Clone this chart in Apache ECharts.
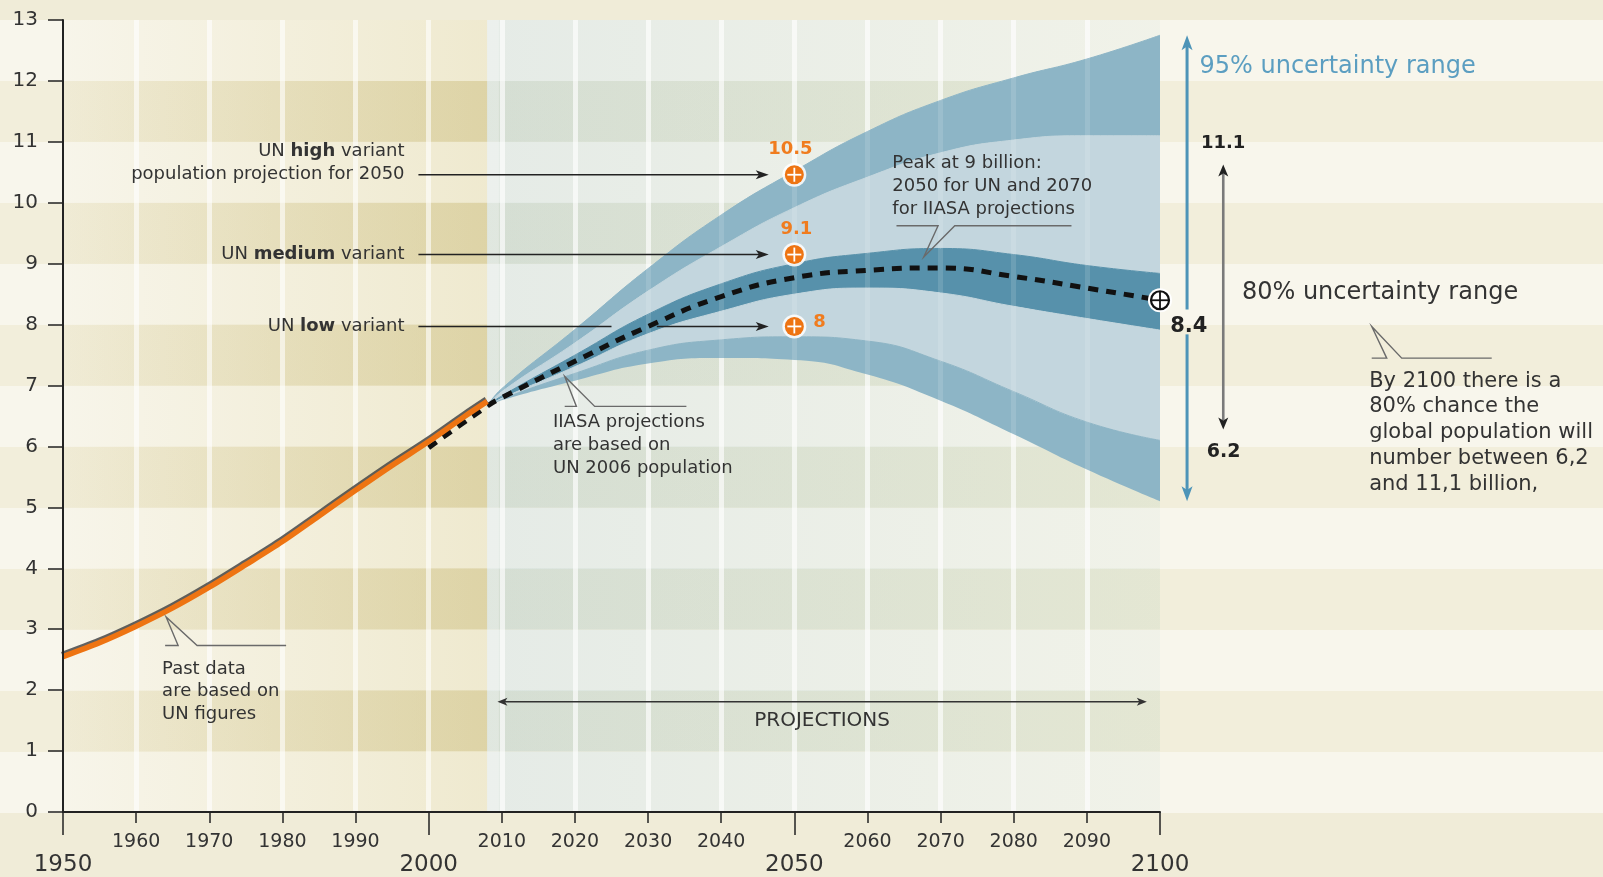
<!DOCTYPE html>
<html><head><meta charset="utf-8">
<script src="https://cdn.jsdelivr.net/npm/echarts@6/dist/echarts.min.js"></script>
<style>html,body{margin:0;padding:0;background:#f0ecd8;}#c{width:1603px;height:877px;}</style>
</head><body><div id="c"></div>
<script>
// ---------------- data ----------------
const histYears  = [1950, 1955, 1960, 1965, 1970, 1975, 1980, 1985, 1990, 1995, 2000, 2005, 2008];
const histValues = [2.55, 2.78, 3.05, 3.35, 3.69, 4.06, 4.44, 4.86, 5.28, 5.69, 6.08, 6.5, 6.74];

const medianYears  = [2000, 2008, 2010, 2020, 2030, 2040, 2050, 2060, 2070, 2080, 2090, 2100];
const medianValues = [5.98, 6.66, 6.8, 7.4, 7.97, 8.46, 8.77, 8.89, 8.93, 8.79, 8.6, 8.4];

const fanYears = [2008, 2010, 2020, 2030, 2040, 2050, 2060, 2070, 2080, 2090, 2100];
const upper95  = [6.66, 6.95, 7.92, 8.92, 9.8, 10.52, 11.17, 11.68, 12.05, 12.36, 12.75];
const upper80  = [6.66, 6.9, 7.7, 8.55, 9.28, 9.92, 10.42, 10.82, 11.03, 11.1, 11.1];
const innerTop = [6.66, 6.83, 7.5, 8.17, 8.67, 9.0, 9.17, 9.25, 9.15, 8.97, 8.84];
const innerBot = [6.66, 6.79, 7.31, 7.85, 8.22, 8.5, 8.6, 8.52, 8.3, 8.1, 7.91];
const lower80  = [6.66, 6.78, 7.2, 7.58, 7.75, 7.8, 7.73, 7.4, 6.9, 6.4, 6.1];
const lower95  = [6.66, 6.76, 7.08, 7.36, 7.45, 7.42, 7.18, 6.75, 6.2, 5.62, 5.1];

const unVariantYear   = 2050;
const unVariantValues = [10.46, 9.15, 7.97];
const unVariantLabels = ['10.5', '9.1', '8'];
const unVariantNames  = ['UN {b|high} variant\npopulation projection for 2050', 'UN {b|medium} variant', 'UN {b|low} variant'];

const majorYears = [1950, 2000, 2050, 2100];
const gridYears  = [1960, 1970, 1980, 1990, 2000, 2010, 2020, 2030, 2040, 2050, 2060, 2070, 2080, 2090];
const rangeLabels = {r95: '95% uncertainty range', r80: '80% uncertainty range', hi80: '11.1', mid: '8.4', lo80: '6.2'};
const noteText = 'By 2100 there is a\n80% chance the\nglobal population will\nnumber between 6,2\nand 11,1 billion,';

// ---------------- style ----------------
const FONT = 'DejaVu Sans';
const MEDIUM = '#8db5c6', LIGHT = '#c3d6de', DARK = '#5791ab', ORANGE = '#ee7412';
const TXT = '#333';
const SMOOTH = 0.5;

const pairs = (xs, ys) => xs.map((x, i) => [x, ys[i]]);
// value-first pairs so that stacking happens on the value dimension
const vpairs = (xs, ys) => xs.map((x, i) => [ys[i], x]);
const diff = (a, b) => a.map((v, i) => +(v - b[i]).toFixed(3));
const grad = (c0, c1) => ({type: 'linear', x: 0, y: 0, x2: 1, y2: 0, colorStops: [{offset: 0, color: c0}, {offset: 1, color: c1}]});

const chart = echarts.init(document.getElementById('c'), null, {width: 1603, height: 877});

// overlay areas (decorative background tints)
const oddBands = [1, 3, 5, 7, 9, 11];
const overlayAreas = [];
overlayAreas.push([{xAxis: 1950, yAxis: 0, itemStyle: {color: grad('rgba(215,200,130,0.02)', 'rgba(215,200,130,0.27)')}}, {xAxis: 2008, yAxis: 13}]);
oddBands.forEach(k => overlayAreas.push([{xAxis: 1950, yAxis: k, itemStyle: {color: grad('rgba(200,185,120,0.04)', 'rgba(200,185,120,0.38)')}}, {xAxis: 2008, yAxis: k + 1}]));
overlayAreas.push([{xAxis: 2008, yAxis: 0, itemStyle: {color: grad('rgba(185,210,218,0.3)', 'rgba(195,218,212,0.14)')}}, {xAxis: 2100, yAxis: 13}]);
oddBands.forEach(k => overlayAreas.push([{xAxis: 2008, yAxis: k, itemStyle: {color: grad('rgba(165,192,182,0.2)', 'rgba(185,205,172,0.15)')}}, {xAxis: 2100, yAxis: k + 1}]));
overlayAreas.push([{xAxis: 2008, yAxis: 0, itemStyle: {color: 'rgba(255,255,255,0.28)'}}, {xAxis: 2009.6, yAxis: 13}]);

const bandDefs = [
  {vals: lower95, color: null},
  {vals: diff(lower80, lower95), color: MEDIUM},
  {vals: diff(innerBot, lower80), color: LIGHT},
  {vals: diff(innerTop, innerBot), color: DARK},
  {vals: diff(upper80, innerTop), color: LIGHT},
  {vals: diff(upper95, upper80), color: MEDIUM}
];
const bandSeries = bandDefs.map(b => {
  const s = {
    type: 'line', stack: 'fan', z: 3, smooth: SMOOTH, symbol: 'none', silent: true,
    xAxisIndex: 0, yAxisIndex: 0,
    encode: {x: 1, y: 0},
    data: vpairs(fanYears, b.vals),
    lineStyle: b.color ? {width: 1, color: b.color} : {width: 0, opacity: 0}
  };
  if (b.color) s.areaStyle = {color: b.color, opacity: 1};
  return s;
});

const option = {
  animation: false,
  backgroundColor: '#f0ecd8',
  grid: [
    {left: 63, right: 443, top: 20, bottom: 64, containLabel: false},
    {left: 0, right: 0, top: 20, bottom: 64, containLabel: false}
  ],
  xAxis: [
    {type: 'value', gridIndex: 0, min: 1950, max: 2100, interval: 10, z: 10,
     axisLine: {lineStyle: {color: '#222', width: 2}},
     axisTick: {length: 11, lineStyle: {color: '#222', width: 1.5}},
     splitLine: {show: false},
     axisLabel: {margin: 21, fontFamily: FONT, fontSize: 19, color: TXT, showMinLabel: true, showMaxLabel: true,
       formatter: v => majorYears.includes(v) ? '' : String(v)}},
    {type: 'value', gridIndex: 0, min: 1950, max: 2100, interval: 50, position: 'bottom', z: 10,
     axisLine: {show: false},
     axisTick: {length: 23, lineStyle: {color: '#222', width: 1.5}},
     splitLine: {show: false},
     axisLabel: {margin: 42, fontFamily: FONT, fontSize: 23, color: TXT, showMinLabel: true, showMaxLabel: true,
       formatter: v => String(v)}},
    {type: 'value', gridIndex: 1, min: 0, max: 1, show: false}
  ],
  yAxis: [
    {type: 'value', gridIndex: 0, min: 0, max: 13, interval: 1, z: 10,
     axisLine: {show: true, lineStyle: {color: '#222', width: 2}},
     axisTick: {show: true, length: 15, lineStyle: {color: '#222', width: 1.5}},
     splitLine: {show: false},
     axisLabel: {margin: 25, fontFamily: FONT, fontSize: 20, color: TXT}},
    {type: 'value', gridIndex: 1, min: 0, max: 13, interval: 1, z: -1,
     axisLine: {show: false}, axisTick: {show: false}, axisLabel: {show: false}, splitLine: {show: false},
     splitArea: {show: true, areaStyle: {color: ['#f8f6ec', '#f2eedb']}}}
  ],
  series: [
    {type: 'line', xAxisIndex: 2, yAxisIndex: 1, data: [], silent: true},
    {type: 'line', xAxisIndex: 0, yAxisIndex: 0, z: 1, silent: true, symbol: 'none',
     data: [[1950, 0]], lineStyle: {opacity: 0},
     markArea: {silent: true, z: 1, label: {show: false}, data: overlayAreas}},
    {type: 'line', xAxisIndex: 0, yAxisIndex: 0, z: 2, silent: true, symbol: 'none',
     data: [[1950, 0]], lineStyle: {opacity: 0},
     markLine: {silent: true, z: 2, symbol: ['none', 'none'], label: {show: false},
       lineStyle: {color: 'rgba(255,255,255,0.6)', width: 5, type: 'solid'},
       data: gridYears.map(y => ({xAxis: y}))}},
    ...bandSeries,
    {type: 'line', xAxisIndex: 0, yAxisIndex: 0, z: 4, silent: true, symbol: 'none',
     data: [[1950, 0]], lineStyle: {opacity: 0},
     markLine: {silent: true, z: 4, symbol: ['none', 'none'], label: {show: false},
       lineStyle: {color: 'rgba(255,255,255,0.13)', width: 5, type: 'solid'},
       data: gridYears.filter(y => y > 2008).map(y => ({xAxis: y}))}},
    {type: 'line', z: 5, smooth: SMOOTH, symbol: 'none', silent: true,
     data: pairs(medianYears, medianValues),
     lineStyle: {color: '#111', width: 5, type: [10, 8], cap: 'butt'}},
    {type: 'line', z: 6, smooth: 0.3, symbol: 'none', silent: true,
     data: pairs(histYears, histValues),
     lineStyle: {color: ORANGE, width: 5.5, shadowColor: 'rgba(70,70,70,0.85)', shadowBlur: 0, shadowOffsetX: -1, shadowOffsetY: -2}},
    {type: 'custom', z: 7, silent: true, xAxisIndex: 0, yAxisIndex: 0, clip: false,
     encode: {x: 0, y: 1},
     data: unVariantValues.map(v => [unVariantYear, v, 0]).concat([[fanYears[fanYears.length - 1], medianValues[medianValues.length - 1], 1]]),
     renderItem: function (params, api) {
       const p = api.coord([api.value(0), api.value(1)]);
       if (api.value(2) === 0) {
         return {type: 'group', children: [
           {type: 'circle', shape: {cx: p[0], cy: p[1], r: 12}, style: {fill: 'rgba(255,255,255,0.85)'}},
           {type: 'circle', shape: {cx: p[0], cy: p[1], r: 9.5}, style: {fill: ORANGE}},
           {type: 'line', shape: {x1: p[0] - 7, y1: p[1], x2: p[0] + 7, y2: p[1]}, style: {stroke: '#fff', lineWidth: 1.8}},
           {type: 'line', shape: {x1: p[0], y1: p[1] - 7, x2: p[0], y2: p[1] + 7}, style: {stroke: '#fff', lineWidth: 1.8}}
         ]};
       }
       return {type: 'group', children: [
         {type: 'circle', shape: {cx: p[0], cy: p[1], r: 12}, style: {fill: '#fff'}},
         {type: 'circle', shape: {cx: p[0], cy: p[1], r: 9}, style: {fill: '#fff', stroke: '#111', lineWidth: 2.2}},
         {type: 'line', shape: {x1: p[0] - 9, y1: p[1], x2: p[0] + 9, y2: p[1]}, style: {stroke: '#111', lineWidth: 1.8}},
         {type: 'line', shape: {x1: p[0], y1: p[1] - 9, x2: p[0], y2: p[1] + 9}, style: {stroke: '#111', lineWidth: 1.8}}
       ]};
     }}
  ]
};
chart.setOption(option);

// ---------------- annotations (anchored in data coordinates) ----------------
const ann = {
  unTextYear: 1996.7, unArrowFrom: 1998.6, unArrowTo: 2046.5, lowGap: [2025, 2031.2],
  peakText: [2063.4, 10.65], peakTip: [2067.7, 9.11],
  iiasaText: [2017.0, 6.39], iiasaTip: [2018.6, 7.15],
  pastText: [1963.55, 2.35], pastTip: [1964.1, 3.2],
  projText: [2053.8, 1.49], projArrow: [2009.4, 2098.2, 1.81],
  blueX: 2103.7, blueGap: [8.25, 7.84],
  r95Text: [2105.4, 12.24], hiText: [2105.6, 10.98], grayArrow: [2108.65, 10.63, 6.28],
  midText: [2101.4, 7.97], loText: [2106.4, 5.9], r80Text: [2111.2, 8.52],
  noteTip: [2128.95, 7.97], noteText: [2128.6, 7.07]
};
const P = (x, v) => chart.convertToPixel({gridIndex: 0}, [x, v]);
const g = [];
function seg(a, b, color, w) {
  g.push({type: 'line', z: 100, silent: true, shape: {x1: a[0], y1: a[1], x2: b[0], y2: b[1]}, style: {stroke: color, lineWidth: w}});
}
function head(tip, from, len, hw, color) {
  const dx = tip[0] - from[0], dy = tip[1] - from[1], L = Math.hypot(dx, dy);
  const ux = dx / L, uy = dy / L, px = -uy, py = ux;
  const bx = tip[0] - ux * len, by = tip[1] - uy * len;
  const nx = tip[0] - ux * len * 0.75, ny = tip[1] - uy * len * 0.75;
  g.push({type: 'polygon', z: 101, silent: true,
    shape: {points: [[tip[0], tip[1]], [bx + px * hw, by + py * hw], [nx, ny], [bx - px * hw, by - py * hw]]},
    style: {fill: color}});
}
function shorten(a, b, d) {
  const dx = b[0] - a[0], dy = b[1] - a[1], L = Math.hypot(dx, dy);
  return [b[0] - dx / L * d, b[1] - dy / L * d];
}
function text(p, str, o) {
  o = o || {};
  const align = o.align || 'left', va = o.va || 'middle';
  const st = {text: str, fontFamily: FONT, fontSize: o.size || 18, fontWeight: o.weight || 'normal',
    fill: o.color || TXT, align: align, verticalAlign: va, textAlign: align, textVerticalAlign: va};
  if (o.lh) st.lineHeight = o.lh;
  if (o.rich) st.rich = o.rich;
  g.push({type: 'text', z: 102, silent: true, x: p[0], y: p[1], style: st});
}
function callout(tip, h, dl, dnl, dnr, dr) {
  g.push({type: 'polyline', z: 100, silent: true,
    shape: {points: [[tip[0] + dl, tip[1] + h], [tip[0] + dnl, tip[1] + h], [tip[0], tip[1]], [tip[0] + dnr, tip[1] + h], [tip[0] + dr, tip[1] + h]]},
    style: {stroke: '#6a6a6a', lineWidth: 1.4, fill: null}});
}
const boldRich = {b: {fontWeight: 'bold', fontFamily: FONT, fontSize: 18, fill: TXT}};

// UN variant arrows, labels and values
unVariantValues.forEach((v, i) => {
  const a = P(ann.unArrowFrom, v), b = P(ann.unArrowTo, v);
  if (i === 2) {
    seg(a, P(ann.lowGap[0], v), '#222', 1.6);
    const c = P(ann.lowGap[1], v);
    seg(c, shorten(c, b, 8), '#222', 1.6);
    head(b, c, 13, 4.5, '#222');
  } else {
    seg(a, shorten(a, b, 8), '#222', 1.6);
    head(b, a, 13, 4.5, '#222');
  }
  const t = P(ann.unTextYear, v);
  if (i === 0) text([t[0], t[1] + 11.75], unVariantNames[i], {align: 'right', va: 'bottom', lh: 23.5, rich: boldRich});
  else text(t, unVariantNames[i], {align: 'right', rich: boldRich});
  const m = P(unVariantYear, v);
  if (i < 2) text([m[0] + (i === 0 ? -4 : 2), m[1] - 25], unVariantLabels[i], {align: 'center', size: 18, weight: 'bold', color: '#f07c1e'});
  else text([m[0] + 19, m[1] - 4], unVariantLabels[i], {size: 18, weight: 'bold', color: '#f07c1e'});
});

// Peak callout
let p = P(ann.peakText[0], ann.peakText[1]);
text([p[0], p[1] - 11.5], 'Peak at 9 billion:\n2050 for UN and 2070\nfor IIASA projections', {va: 'top', lh: 23});
callout(P(ann.peakTip[0], ann.peakTip[1]), -31.3, -27.3, 14.3, 31, 147.7);

// IIASA callout
p = P(ann.iiasaText[0], ann.iiasaText[1]);
text([p[0], p[1] - 11.5], 'IIASA projections\nare based on\nUN 2006 population', {va: 'top', lh: 23});
callout(P(ann.iiasaTip[0], ann.iiasaTip[1]), 30, 0, 11.7, 30, 121.7);

// Past data callout
p = P(ann.pastText[0], ann.pastText[1]);
text([p[0], p[1] - 11.25], 'Past data\nare based on\nUN figures', {va: 'top', lh: 22.5});
callout(P(ann.pastTip[0], ann.pastTip[1]), 28.5, -1, 12, 31, 120);

// Projections arrow
const pa = P(ann.projArrow[0], ann.projArrow[2]), pb = P(ann.projArrow[1], ann.projArrow[2]);
seg(shorten(pb, pa, 7), shorten(pa, pb, 7), '#333', 1.4);
head(pa, pb, 10, 4, '#333');
head(pb, pa, 10, 4, '#333');
text(P(ann.projText[0], ann.projText[1]), 'PROJECTIONS', {align: 'center', size: 20});

// Right panel: 95% blue arrow
const bTop = P(ann.blueX, upper95[upper95.length - 1]), bBot = P(ann.blueX, lower95[lower95.length - 1]);
const bG1 = P(ann.blueX, ann.blueGap[0]), bG2 = P(ann.blueX, ann.blueGap[1]);
seg(shorten(bG1, bTop, 10), bG1, '#4d94b8', 3);
seg(bG2, shorten(bG2, bBot, 10), '#4d94b8', 3);
head(bTop, bG1, 15, 5.5, '#4d94b8');
head(bBot, bG2, 15, 5.5, '#4d94b8');
text(P(ann.r95Text[0], ann.r95Text[1]), rangeLabels.r95, {size: 24, color: '#5b9ec1'});

// 80% gray arrow
const gTop = P(ann.grayArrow[0], ann.grayArrow[1]), gBot = P(ann.grayArrow[0], ann.grayArrow[2]);
seg(shorten(gBot, gTop, 9), shorten(gTop, gBot, 9), '#7a7a7a', 2.6);
head(gTop, gBot, 12, 5, '#222');
head(gBot, gTop, 12, 5, '#222');
text(P(ann.hiText[0], ann.hiText[1]), rangeLabels.hi80, {size: 18, weight: 'bold', color: '#222'});
text(P(ann.midText[0], ann.midText[1]), rangeLabels.mid, {size: 21, weight: 'bold', color: '#222'});
text(P(ann.loText[0], ann.loText[1]), rangeLabels.lo80, {size: 19, weight: 'bold', color: '#222'});
text(P(ann.r80Text[0], ann.r80Text[1]), rangeLabels.r80, {size: 24, color: TXT});
callout(P(ann.noteTip[0], ann.noteTip[1]), 31.7, 0, 15, 30, 120);
p = P(ann.noteText[0], ann.noteText[1]);
text([p[0], p[1] - 12.85], noteText, {va: 'top', lh: 25.7, size: 21});

chart.setOption({graphic: {elements: g}});
</script>
</body></html>
